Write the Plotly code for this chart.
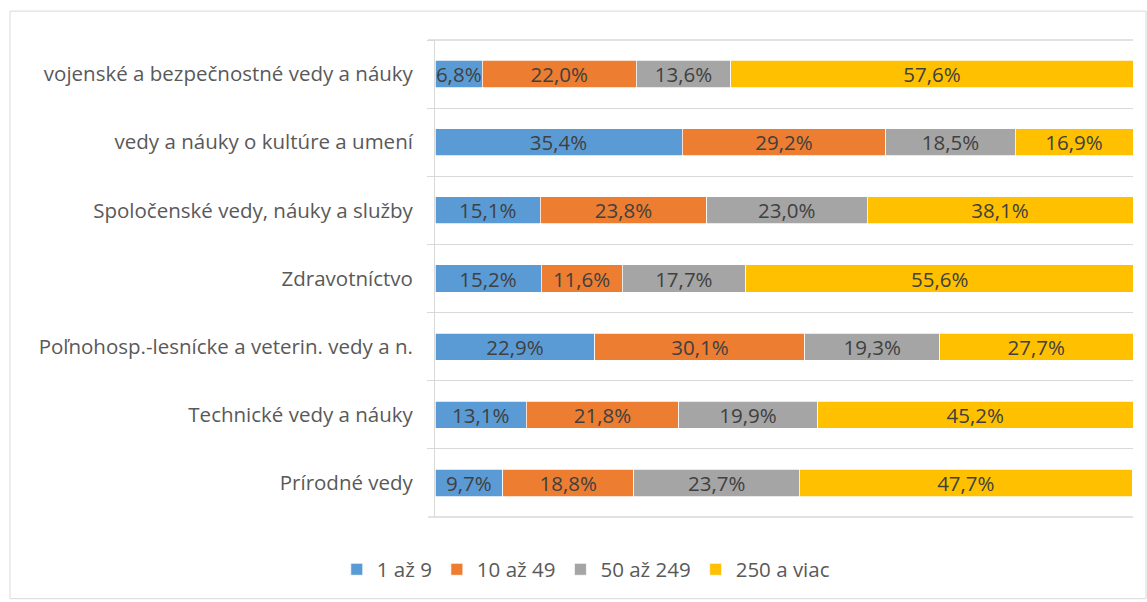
import plotly.graph_objects as go

categories = [
    "vojenské a bezpečnostné vedy a náuky",
    "vedy a náuky o kultúre a umení",
    "Spoločenské vedy, náuky a služby",
    "Zdravotníctvo",
    "Poľnohosp.-lesnícke a veterin. vedy a n.",
    "Technické vedy a náuky",
    "Prírodné vedy",
]
series_names = ["1 až 9", "10 až 49", "50 až 249", "250 a viac"]
s1 = [6.8, 35.4, 15.1, 15.2, 22.9, 13.1, 9.7]
s2 = [22.0, 29.2, 23.8, 11.6, 30.1, 21.8, 18.8]
s3 = [13.6, 18.5, 23.0, 17.7, 19.3, 19.9, 23.7]
s4 = [57.6, 16.9, 38.1, 55.6, 27.7, 45.2, 47.7]
colors = ["#5B9BD5", "#ED7D31", "#A5A5A5", "#FFC000"]

FONT = "Open Sans"
FS = 20.5
GRID = "#D9D9D9"
fig = go.Figure()
for name, vals, col in zip(series_names, [s1, s2, s3, s4], colors):
    fig.add_trace(go.Bar(
        y=categories, x=vals, name=name, orientation="h",
        marker=dict(color=col, line=dict(color="white", width=0.75)),
        texttemplate="%{x:.1f}%", textposition="inside",
        insidetextanchor="middle", textangle=0,
        textfont=dict(family=FONT, size=FS, color="#404040"),
    ))

edge_lines = [dict(type="line", xref="paper", yref="paper", x0=-7 / 698, x1=1,
                   y0=yy, y1=yy, line=dict(color=GRID, width=1.5), layer="above")
              for yy in (0, 1)]

fig.update_layout(
    barmode="stack", bargap=0.6,
    width=1147, height=602,
    margin=dict(l=435, r=14, t=40, b=83),
    paper_bgcolor="white", plot_bgcolor="rgba(0,0,0,0)",
    separators=", ",
    uniformtext=dict(minsize=FS, mode="show"),
    font=dict(family=FONT, size=FS, color="#595959"),
    legend=dict(orientation="h", x=0.216, xanchor="center", y=-0.11, yanchor="middle",
                font=dict(family=FONT, size=FS, color="#595959"), itemwidth=30,
                traceorder="normal"),
    xaxis=dict(range=[0, 100], showgrid=False, zeroline=False, showticklabels=False,
               showline=False, ticks=""),
    yaxis=dict(type="category", range=[6.5, -0.5], tickson="boundaries",
               showgrid=True, gridcolor=GRID, gridwidth=1,
               showline=True, linecolor=GRID, linewidth=1,
               ticks="outside", ticklen=7, tickcolor=GRID,
               ticklabelstandoff=17,
               tickfont=dict(family=FONT, size=FS, color="#595959")),
    shapes=[dict(type="rect", xref="paper", yref="paper",
                 x0=(10 - 435) / 698, x1=(1146 - 435) / 698,
                 y0=(519 - 601) / 479, y1=(519 - 11) / 479,
                 line=dict(color=GRID, width=1), fillcolor="rgba(0,0,0,0)",
                 layer="below")] + edge_lines,
)
fig.write_html("out.html", config={"displayModeBar": False})

with open("out.html", encoding="utf-8") as f:
    html = f.read()
html = html.replace("<head>", "<head><style>html,body{margin:0;padding:0;overflow:hidden;}</style>", 1)
with open("out.html", "w", encoding="utf-8") as f:
    f.write(html)
